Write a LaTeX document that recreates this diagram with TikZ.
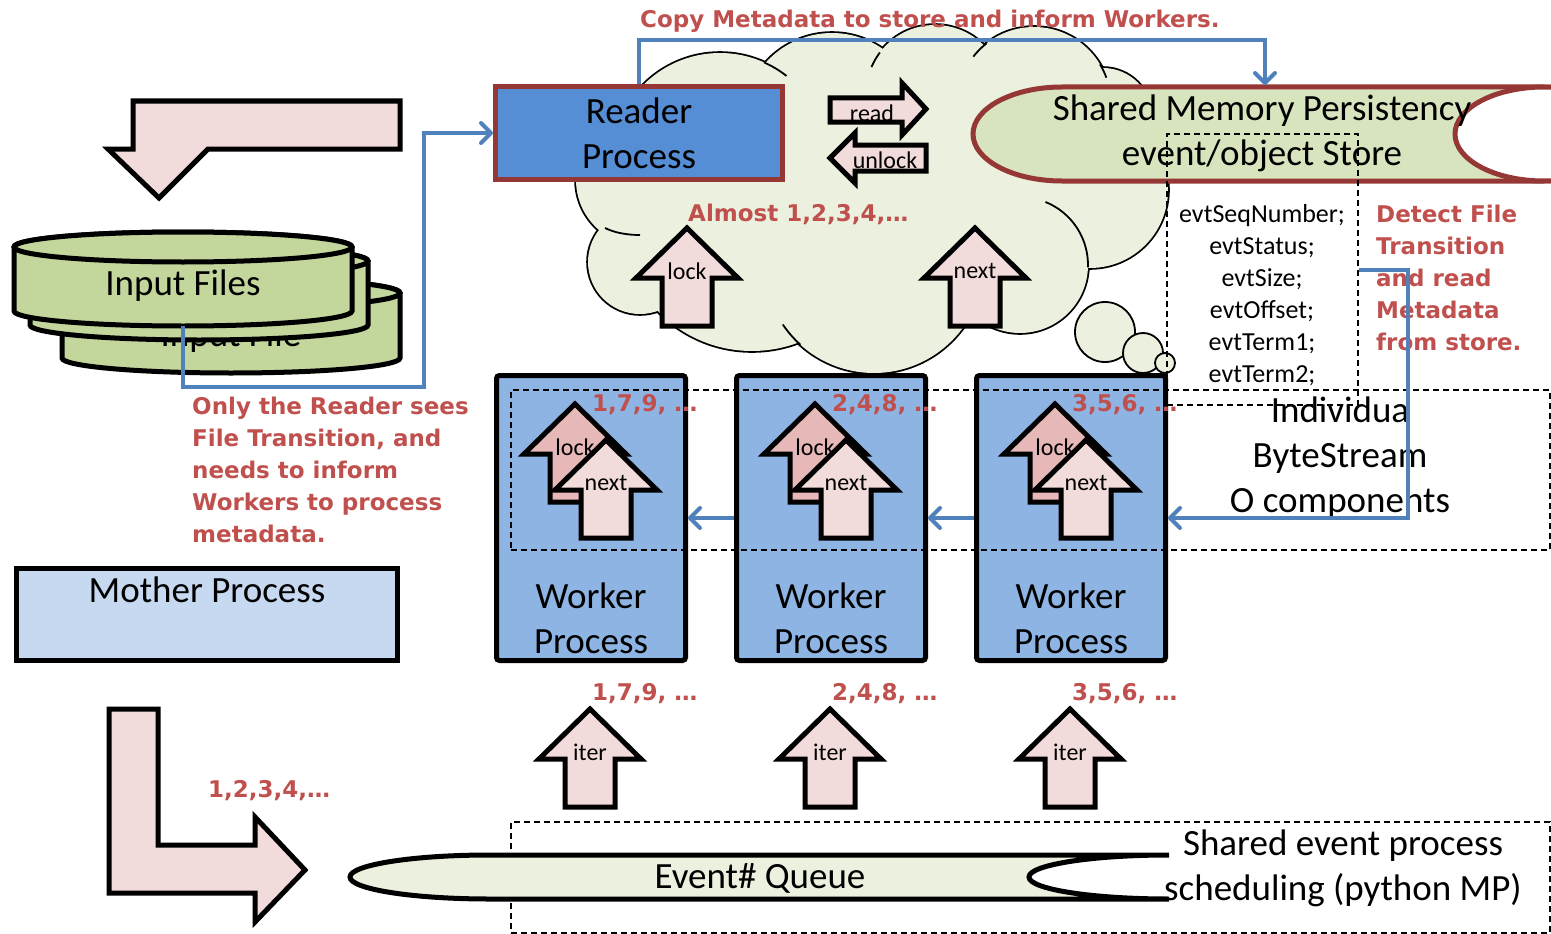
\documentclass[tikz,border=0pt]{standalone}
\usepackage{fontspec}
\setmainfont{Carlito}
\newfontfamily\notefont{DejaVu Sans}
\usetikzlibrary{arrows.meta}
\definecolor{notered}{HTML}{C0504D}
\definecolor{blueln}{HTML}{4F81BD}
\definecolor{readerfill}{HTML}{558ED5}
\definecolor{darkred}{HTML}{953735}
\definecolor{smfill}{HTML}{D7E4BD}
\definecolor{cloudfill}{HTML}{EBF1DE}
\definecolor{workerfill}{HTML}{8EB4E3}
\definecolor{motherfill}{HTML}{C6D9F1}
\definecolor{filesfill}{HTML}{C3D69B}
\definecolor{pinkfill}{HTML}{F2DCDB}
\definecolor{lockfill}{HTML}{E6B9B8}
\definecolor{queuefill}{HTML}{EBF1DE}

% a disk of the input file stack: left x, right x, top y, bottom y
\newcommand\filecyl[4]{%
  \pgfmathsetmacro\cylcx{(#1+#2)/2}%
  \pgfmathsetmacro\cylrx{(#2-#1)/2}%
  \draw[line width=5pt, fill=filesfill] (#1,#3) -- (#1,#4)
    arc[start angle=180, end angle=0, x radius=\cylrx, y radius=15]
    -- (#2,#3) arc[start angle=0, end angle=-180, x radius=\cylrx, y radius=15] -- cycle;
  \draw[line width=5pt, fill=filesfill] (\cylcx,#3) ellipse[x radius=\cylrx, y radius=15];
}
% block arrow pointing up: name, tip x, tip y, fill, label
\newcommand\uparrowat[5]{%
  \draw[arr, fill=#4] (#2,#3) -- ++(51,50) -- ++(-26,0) -- ++(0,48) -- ++(-50,0)
    -- ++(0,-48) -- ++(-26,0) -- cycle;
  \node[small] (#1) at (#2,#3+43) {#5};
}

\begin{document}
\begin{tikzpicture}[x=1pt, y=-1pt,
  txt/.style={font=\fontsize{37}{45}\selectfont, inner sep=0pt, align=center},
  small/.style={font=\fontsize{24}{28}\selectfont, inner sep=0pt},
  note/.style={font=\notefont\bfseries\fontsize{23}{32}\selectfont, text=notered, inner sep=0pt, align=left},
  arr/.style={draw=black, line width=5pt, line join=miter},
  conn/.style={draw=blueln, line width=4pt, -{Straight Barb[length=10pt, width=20pt, round]}},
  dbox/.style={draw=black, line width=1.5pt, dash pattern=on 6pt off 4pt, inner sep=0pt},
  worker/.style={draw=black, line width=5pt, fill=workerfill, rounded corners=3pt,
    minimum width=189pt, minimum height=285pt, inner sep=0pt},
  cloudline/.style={draw=black, line width=1.8pt}]
\useasboundingbox (0,0) rectangle (1551,934);

% ---- input side -------------------------------------------------
\draw[arr, fill=pinkfill] (400,101) -- (133,101) -- (133,149) -- (108,149) -- (159,198)
  -- (208,149) -- (400,149) -- cycle;

\filecyl{62}{400}{293}{358}
\node[txt] (backfile) at (231,337) {Input File};
\filecyl{30}{368}{261}{325}
\filecyl{14}{352}{247}{311}
\node[txt] (files) at (183,286) {Input Files};
\coordinate (filesout) at (183,326);

% ---- cloud ------------------------------------------------------
\def\puffs{720/161/108, 832/122/89, 935/94/69, 1034/104/77, 1103/117/49,
  1090/190/78, 1020/265/68, 874/263/110, 752/220/131, 640/262/52, 642/180/66}
\foreach \px/\py/\pr in \puffs {\draw[line width=3.6pt] (\px,\py) circle[radius=\pr];}
\foreach \px/\py/\pr in \puffs {\fill[cloudfill] (\px,\py) circle[radius=\pr];}
\fill[cloudfill] (900,200) ellipse[x radius=200, y radius=110];
% inner strokes of the cloud
\draw[cloudline] (720,161) ++(-66:108) arc[start angle=-66, end angle=-52, radius=108];
\draw[cloudline] (935,94) ++(-143:69) arc[start angle=-143, end angle=-157, radius=69];
\draw[cloudline] (1034,104) ++(-128:77) arc[start angle=-128, end angle=-142, radius=77];
\draw[cloudline] (1034,104) ++(-31:77) arc[start angle=-31, end angle=-20, radius=77];
\draw[cloudline] (1020,265) ++(-68:68) arc[start angle=-68, end angle=2, radius=68];
\draw[cloudline] (874,263) ++(132:110) arc[start angle=132, end angle=146, radius=110];
\draw[cloudline] (605,228) .. controls (615,233) and (628,235) .. (640,235);
% thought bubbles
\draw[cloudline, fill=cloudfill] (1105,332) circle[radius=30];
\draw[cloudline, fill=cloudfill] (1143,353) circle[radius=20];
\draw[cloudline, fill=cloudfill] (1165,363) circle[radius=10];

% ---- reader and shared store -------------------------------------
\node[txt, draw=darkred, line width=5pt, fill=readerfill, minimum width=287pt,
  minimum height=93pt] (reader) at (639,133) {Reader\\Process};

\begin{scope}
  \clip (0,0) rectangle (1551,934);
  \draw[draw=darkred, line width=5pt, fill=smfill] (1544,87) -- (1062,87)
    arc[start angle=-90, end angle=-270, x radius=89, y radius=47] -- (1544,181)
    arc[start angle=90, end angle=-90, x radius=89, y radius=47] -- cycle;
  \draw[draw=darkred, line width=5pt, fill=white] (1544,134) ellipse[x radius=89, y radius=47];
\end{scope}
\node[txt] (smtext) at (1262,133) {Shared Memory Persistency\\event/object Store};
\coordinate (smtop) at (1265,85);

% read / unlock
\draw[arr, fill=pinkfill] (830,98) -- (902,98) -- (902,83) -- (926,109) -- (902,135)
  -- (902,122) -- (830,122) -- cycle;
\node[small] (readlbl) at (872,113) {read};
\draw[arr, fill=pinkfill] (926,145) -- (855,145) -- (855,133) -- (830,158) -- (855,183)
  -- (855,171) -- (926,171) -- cycle;
\node[small] (unlocklbl) at (885,160) {unlock};

\uparrowat{lockc}{687}{228}{pinkfill}{lock}
\uparrowat{nextc}{975}{228}{pinkfill}{next}
\node[note, anchor=west] (almost) at (688,214) {Almost 1,2,3,4,…};

% event record fields
\node[dbox, minimum width=191pt, minimum height=271pt] (evtbox) at (1262.5,269.5) {};
\node[font=\fontsize{26}{32}\selectfont, inner sep=0pt, align=center] (fields) at (1262,295)
  {evtSeqNumber;\\evtStatus;\\evtSize;\\evtOffset;\\evtTerm1;\\evtTerm2;};
\node[note, anchor=west] (detect) at (1376,278)
  {Detect File\\Transition\\and read\\Metadata\\from store.};

% ---- workers ----------------------------------------------------
\node[worker] (w1) at (591,518) {};
\node[worker] (w2) at (831,518) {};
\node[worker] (w3) at (1071,518) {};
\node[dbox, minimum width=1039pt, minimum height=160pt] (iobox) at (1030.5,470) {};
\node[txt] (iotext) at (1340,458) {Individua\\ByteStream\\O components};

\foreach \k/\nums in {0/{1,7,9, …}, 1/{2,4,8, …}, 2/{3,5,6, …}} {
  \pgfmathsetmacro\wx{240*\k}
  \uparrowat{wlock\k}{575+\wx}{404}{lockfill}{lock}
  \uparrowat{wnext\k}{606+\wx}{440}{pinkfill}{next}
  \node[note, anchor=west] (wnum\k) at (592+\wx,405) {\nums};
  \node[note, anchor=west] (qnum\k) at (592+\wx,694) {\nums};
  \node[txt] (wtxt\k) at (591+\wx,618) {Worker\\Process};
  \uparrowat{iter\k}{590+\wx}{709}{pinkfill}{iter}
}

% ---- connectors ---------------------------------------------------
\draw[conn] (filesout) -- ++(0,61) -| ([xshift=-69pt]reader.west) -- (reader.west);
\draw[conn] (reader.north) -- ++(0,-44) -| (smtop);
\node[note, anchor=west] (copy) at (640,21) {Copy Metadata to store and inform Workers.};
\coordinate (detecty) at (0,270);
\draw[conn] (evtbox.east |- detecty) -- ++(49,0) |- (w3.east);
\draw[conn] (w2.west) -- (w1.east);
\draw[conn] (w3.west) -- (w2.east);

\node[note, anchor=west] (onlyreader) at (192,470)
  {Only the Reader sees\\File Transition, and\\needs to inform\\Workers to process\\metadata.};

% ---- mother and queue ----------------------------------------------
\node[draw=black, line width=5pt, fill=motherfill, minimum width=381pt, minimum height=92pt,
  inner sep=0pt] (mother) at (207,614.5) {};
\node[txt] (mothertxt) at (207,590) {Mother Process};

\draw[arr, fill=pinkfill] (109,709) -- (158,709) -- (158,845) -- (255,845) -- (255,817)
  -- (305,870) -- (255,922) -- (255,893) -- (109,893) -- cycle;
\node[note, anchor=west] (seq) at (208,791) {1,2,3,4,…};

\node[dbox, minimum width=1039pt, minimum height=111pt] (schedbox) at (1030.5,877.5) {};
\draw[line width=5pt, fill=queuefill] (1169,855) -- (490,855)
  arc[start angle=-90, end angle=-270, x radius=140, y radius=22] -- (1169,899)
  arc[start angle=90, end angle=270, x radius=140, y radius=22];
\node[txt] (queue) at (760,878) {Event\# Queue};
\node[txt] (sched) at (1343,868) {Shared event process\\scheduling (python MP)};
\end{tikzpicture}
\end{document}
